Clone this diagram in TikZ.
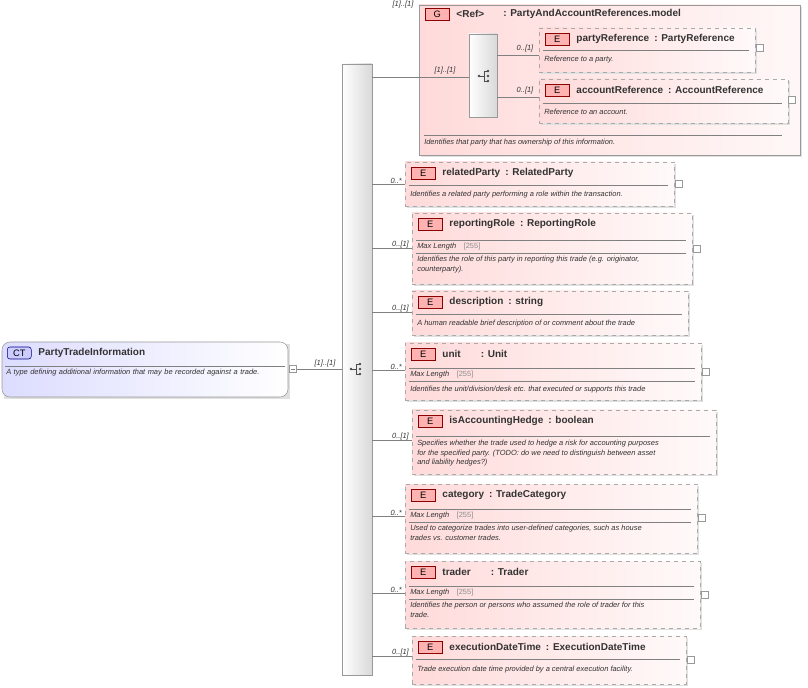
\documentclass[tikz,border=0pt]{standalone}
\usepackage{fontspec}
\setmainfont{Liberation Sans}
\usetikzlibrary{positioning, fit}
\definecolor{elpink}{RGB}{255,218,218}
\definecolor{elline}{RGB}{170,170,170}
\definecolor{ctblue}{RGB}{220,220,255}
\tikzstyle{elbox} = [draw=elline, dashed, left color=elpink, right color=elpink!15, inner sep=0]
\tikzstyle{badge} = [draw=red!55!black, fill=red!30, minimum width=18pt, minimum height=9pt, inner sep=0, font=\fontsize{7}{8}\selectfont]
\tikzstyle{title} = [inner sep=0, font=\bfseries\fontsize{7.5}{9}\selectfont, text=black!80]
\tikzstyle{desc} = [inner sep=0, align=left, font=\itshape\fontsize{5.6}{7}\selectfont, text=black!80]
\tikzstyle{card} = [inner sep=0, font=\itshape\fontsize{5.6}{7}\selectfont, text=black!80]
\tikzstyle{sep} = [draw=black!50, line width=0.4pt]
\tikzstyle{edge} = [draw=black!50, line width=0.4pt]
\tikzstyle{plus} = [draw=black!40, minimum size=5.5pt, inner sep=0, fill=white]
\newcommand\xelem[7]{% name, x1, y1, x2, y2, header y, title
  \fill[black!12] (#2+2,#3+2) rectangle (#4+2,#5+2);
  \node[elbox, fit={(#2,#3) (#4,#5)}] (#1) {};
  \node[badge, anchor=west] (#1b) at (#2+6,#3+11) {E};
  \node[title, right=5pt of #1b] (#1t) {#7};
  \draw[sep] (#2+4,#6) -- (#4-6,#6);
}
\newcommand\xmax[3]{% name, x, y
  \node[card, anchor=west] (#1m) at (#2,#3) {Max Length\quad{\upshape\color{black!45}[255]}};
}
\newcommand\xseqicon[3]{% name, x, y
  \fill[black!70] (#2-5,#3) circle (1.3);
  \draw[black!70, line width=0.7pt] (#2-5,#3) -- (#2,#3) (#2,#3-5) -- (#2,#3+5) (#2,#3-5) -- (#2+4,#3-5) (#2,#3+5) -- (#2+4,#3+5);
  \foreach \dy in {-5,0,5} \fill[black!70] (#2+4,#3+\dy) circle (1.3);
  \coordinate (#1) at (#2,#3);
}
\begin{document}
\begin{tikzpicture}[x=0.75pt,y=-0.75pt]
\useasboundingbox (0,0) rectangle (808,688);

% complex type
\fill[black!12] (4,344) rectangle (290,399);
\node[draw=black!40, rounded corners=6pt, left color=ctblue, right color=white, inner sep=0, fit={(2,342) (288,397)}] (ct) {};
\node[draw=blue!50!black, fill=blue!20, rounded corners=2pt, minimum width=18pt, minimum height=9pt, inner sep=0, font=\fontsize{7}{8}\selectfont, anchor=west] (ctb) at (7,353) {CT};
\node[title, right=5pt of ctb] (ctt) {PartyTradeInformation};
\draw[sep] (5,366) -- (285,366);
\node[desc, anchor=north west, text width=280pt*0.75] (ctd) at (6,369) {A type defining additional information that may be recorded against a trade.};
\node[plus] (ctm) at (293,369) {};
\draw[black!50] (291,369) -- (295,369);

% main sequence
\node[draw=black!40, left color=white, right color=black!15, inner sep=0, fit={(342,64) (372,675)}] (seq) {};
\xseqicon{seqi}{356}{369}
\draw[edge] (ctm) -- (seq.west |- ctm);
\node[card, anchor=south] at (325,367) {[1]..[1]};

% group
\fill[black!12] (421,7) rectangle (802,157);
\node[draw=black!40, left color=elpink, right color=elpink!20, inner sep=0, fit={(419,5) (800,155)}] (grp) {};
\node[card, anchor=north] at (403,1) {[1]..[1]};
\node[badge, anchor=west] (grpb) at (425,14) {G};
\node[title, right=5pt of grpb] (grpr) {<Ref>};
\node[title, anchor=west] (grpt) at (503,14) {: PartyAndAccountReferences.model};
\node[draw=black!40, left color=white, right color=black!15, inner sep=0, fit={(469,34) (497,117)}] (gseq) {};
\xseqicon{gseqi}{484}{76}
\coordinate (grpin) at (419,77);
\draw[edge] (seq.east |- grpin) -- (gseq.west |- grpin);
\node[card, anchor=south] at (445,74) {[1]..[1]};
\draw[sep] (424,135) -- (782,135);
\node[desc, anchor=west] at (424,143) {Identifies that party that has ownership of this information.};

\xelem{pref}{539}{28}{755}{72}{50}{partyReference\enspace: PartyReference}
\node[desc, anchor=west] at (544,60) {Reference to a party.};
\node[plus] at (760,48) {};
\xelem{aref}{539}{79}{788}{123}{103}{accountReference\enspace: AccountReference}
\node[desc, anchor=west] at (544,112) {Reference to an account.};
\node[plus] at (792,100) {};
\coordinate (prefin) at (539,55);
\coordinate (arefin) at (539,97);
\draw[edge] (gseq.east |- prefin) -- (prefin);
\draw[edge] (gseq.east |- arefin) -- (arefin);
\node[card, anchor=south] at (525,52) {0..[1]};
\node[card, anchor=south] at (525,94) {0..[1]};

% elements
\xelem{rp}{405}{162}{674}{206}{185}{relatedParty\enspace: RelatedParty}
\node[desc, anchor=west] at (410,195) {Identifies a related party performing a role within the transaction.};
\node[plus] at (679,184) {};

\xelem{rr}{412}{213}{692}{284}{240}{reportingRole\enspace: ReportingRole}
\xmax{rr}{417}{247}
\draw[sep] (416,253) -- (686,253);
\node[desc, anchor=north west] at (417,256) {Identifies the role of this party in reporting this trade (e.g. originator,\\counterparty).};
\node[plus] at (697,249) {};

\xelem{de}{412}{291}{688}{335}{314}{description\enspace: string}
\node[desc, anchor=west] at (417,324) {A human readable brief description of or comment about the trade};

\xelem{un}{405}{343}{701}{400}{368}{unit\qquad: Unit}
\xmax{un}{410}{375}
\draw[sep] (409,381) -- (695,381);
\node[desc, anchor=west] at (410,390) {Identifies the unit/division/desk etc. that executed or supports this trade};
\node[plus] at (706,372) {};

\xelem{ah}{412}{410}{716}{474}{436}{isAccountingHedge\enspace: boolean}
\node[desc, anchor=north west] at (417,440) {Specifies whether the trade used to hedge a risk for accounting purposes\\for the specified party. (TODO: do we need to distinguish between asset\\and liability hedges?)};

\xelem{ca}{405}{484}{697}{553}{509}{category\enspace: TradeCategory}
\xmax{ca}{410}{516}
\draw[sep] (409,522) -- (691,522);
\node[desc, anchor=north west] at (410,525) {Used to categorize trades into user-defined categories, such as house\\trades vs. customer trades.};
\node[plus] at (702,518) {};

\xelem{tr}{405}{561}{700}{628}{586}{trader\qquad: Trader}
\xmax{tr}{410}{593}
\draw[sep] (409,599) -- (694,599);
\node[desc, anchor=north west] at (410,602) {Identifies the person or persons who assumed the role of trader for this\\trade.};
\node[plus] at (705,595) {};

\xelem{ed}{412}{636}{686}{684}{659}{executionDateTime\enspace: ExecutionDateTime}
\node[desc, anchor=west] at (417,670) {Trade execution date time provided by a central execution facility.};
\node[plus] at (691,660) {};

% connectors from the sequence
\foreach \n/\y/\c in {rp/184/0..*, rr/248/0..[1], de/312/0..[1], un/370/0..*, ah/440/0..[1], ca/516/0..*, tr/593/0..*, ed/656/0..[1]} {
  \coordinate (\n in) at (\n.west |- 0,\y);
  \draw[edge] (seq.east |- \n in) -- (\n in);
  \node[card, anchor=south east] at ([xshift=-2pt]\n in) {\c};
}
\end{tikzpicture}
\end{document}
